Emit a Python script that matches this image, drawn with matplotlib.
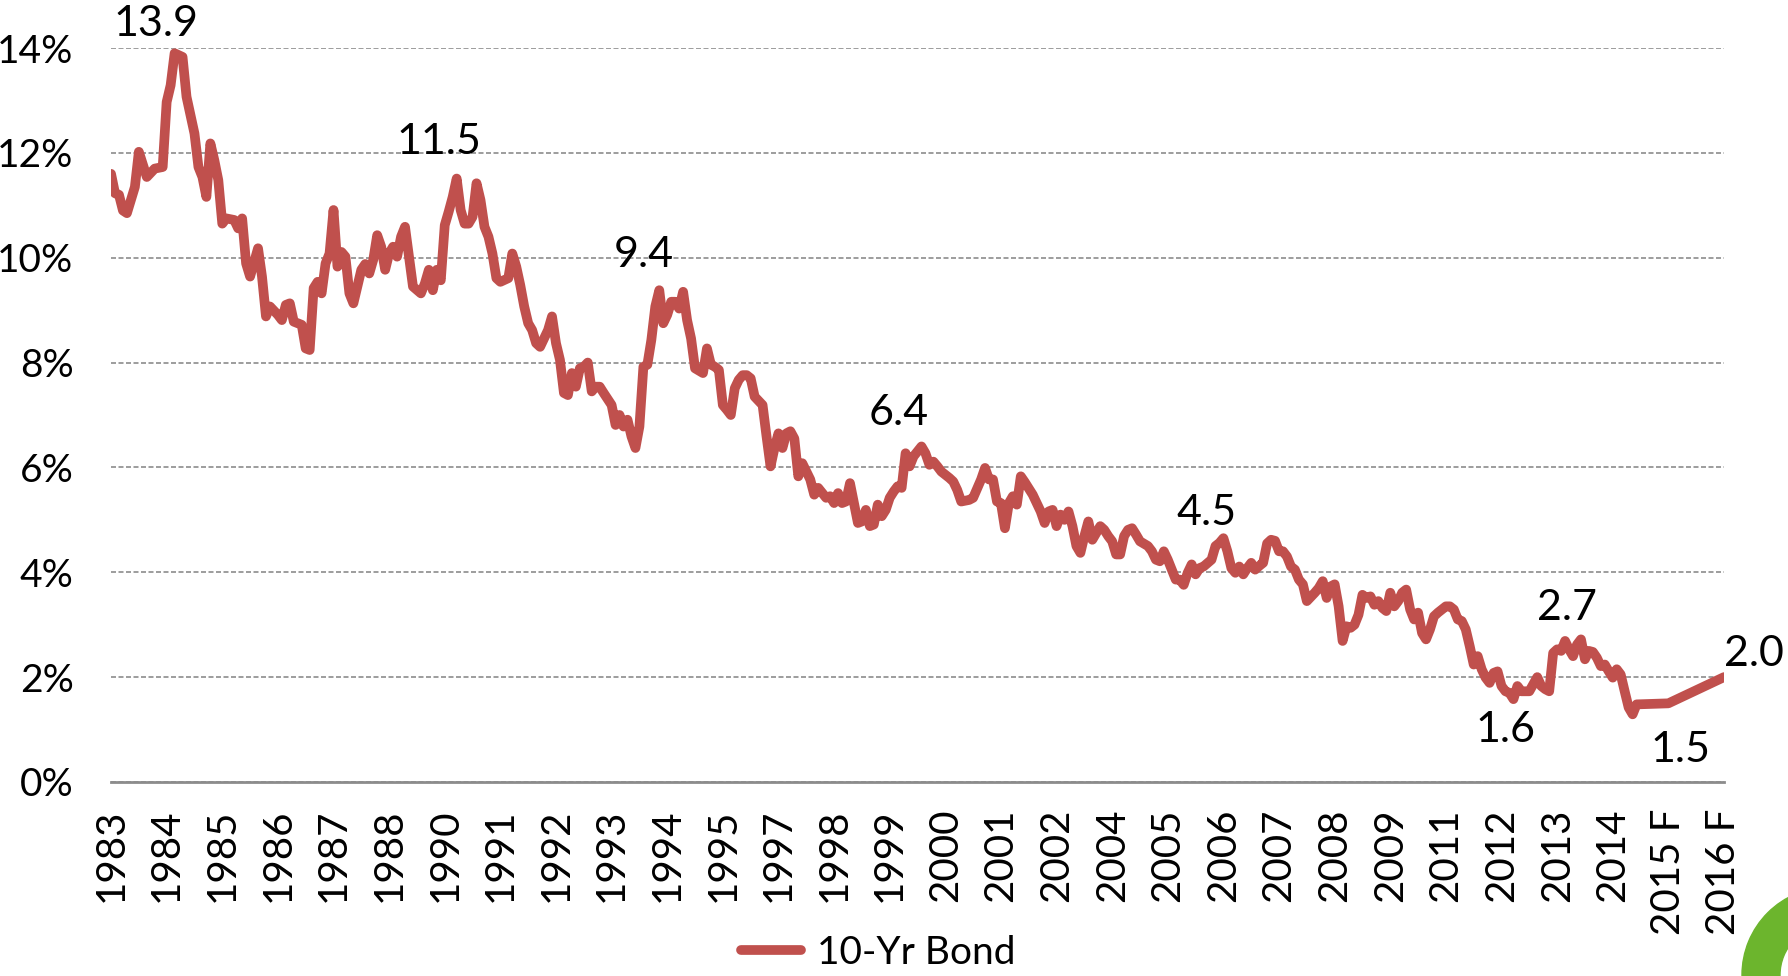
import numpy as np
import matplotlib
matplotlib.use("Agg")
import matplotlib.pyplot as plt
from matplotlib.patches import Wedge

nan = np.nan

# monthly 10-yr yield (%), Jan 1983 .. Jan 2015, nan = not read (line joins across)
y1983 = [11.6, 11.23, 11.2, 10.9, 10.85, nan, 11.35, 12.02, nan, 11.54, nan, 11.7]
y1984 = [nan, 11.73, 12.97, 13.29, 13.9, nan, 13.83, 13.07, nan, 12.37, 11.73, 11.54]
y1985 = [11.16, 12.18, 11.86, 11.48, 10.65, 10.75, nan, 10.72, 10.56, 10.75, 9.89, 9.64]
y1986 = [nan, 10.18, 9.64, 8.88, 9.07, nan, 8.91, 8.81, 9.1, 9.13, 8.78, nan]
y1987 = [8.72, 8.27, 8.24, 9.42, 9.54, 9.32, 9.89, 10.08, 10.91, 9.83, 10.11, 10.02]
y1988 = [9.32, 9.13, nan, 9.77, 9.88, 9.70, 9.96, 10.43, 10.21, 9.77, 10.08, 10.21]
y1989 = [10.02, 10.4, 10.59, 10.02, 9.45, nan, 9.32, 9.51, 9.77, 9.38, 9.77, 9.57]
y1990 = [10.62, 10.88, 11.16, 11.51, 10.91, 10.65, 10.65, 10.78, 11.42, 11.1, 10.59, 10.4]
y1991 = [10.08, 9.61, 9.54, nan, 9.61, 10.08, 9.83, 9.48, 9.07, 8.75, 8.62, 8.37]
y1992 = [8.30, nan, 8.62, 8.88, 8.37, 8.05, 7.42, 7.38, 7.80, 7.54, 7.89, 7.92]
y1993 = [8.0, 7.45, 7.54, 7.54, 7.42, nan, 7.19, 6.81, 7.0, 6.78, 6.91, 6.59]
y1994 = [6.37, 6.78, 7.92, 7.96, 8.43, 9.07, 9.38, 8.75, 8.91, 9.16, 9.16, 9.03]
y1995 = [9.35, 8.81, 8.46, 7.89, nan, 7.80, 8.27, 7.96, 7.92, 7.86, 7.19, 7.10]
y1996 = [7.0, 7.51, 7.67, 7.76, 7.76, 7.70, 7.35, nan, 7.19, 6.59, 6.02, 6.37]
y1997 = [6.65, 6.37, 6.65, 6.69, 6.55, 5.83, 6.08, nan, 5.77, 5.48, 5.61, nan]
y1998 = [5.42, 5.45, 5.32, 5.51, 5.32, 5.35, 5.70, nan, 4.94, 4.97, 5.19, 4.88]
y1999 = [4.91, 5.29, 5.07, 5.19, 5.42, 5.54, 5.64, 5.61, 6.27, 6.02, 6.21, nan]
y2000 = [6.40, 6.27, 6.05, 6.11, 6.02, 5.92, nan, 5.80, 5.73, 5.57, 5.35, nan]
y2001 = [5.38, 5.42, nan, 5.77, 5.99, 5.77, 5.77, 5.35, 5.32, 4.84, 5.32, 5.45]
y2002 = [5.29, 5.83, 5.72, nan, 5.48, nan, 5.16, 4.94, 5.16, 5.19, 4.88, 5.10]
y2003 = [5.0, 5.16, 4.88, 4.50, 4.37, 4.69, 4.97, 4.62, nan, 4.88, 4.81, 4.69]
y2004 = [4.59, 4.34, 4.34, 4.69, 4.81, 4.84, 4.72, 4.59, nan, 4.50, 4.40, 4.24]
y2005 = [4.21, 4.40, 4.24, 4.05, 3.86, 3.86, 3.76, 3.99, 4.15, 3.96, 4.08, 4.11]
y2006 = [nan, 4.24, 4.50, 4.56, 4.65, 4.40, 4.08, 3.99, 4.11, 3.96, 4.08, 4.18]
y2007 = [4.05, 4.12, 4.18, 4.55, 4.62, 4.60, 4.40, 4.40, 4.30, 4.11, 4.05, 3.86]
y2008 = [3.77, 3.45, nan, 3.61, 3.70, 3.83, 3.51, 3.73, 3.77, 3.35, 2.69, 2.97]
y2009 = [2.94, 3.0, 3.19, 3.57, 3.51, 3.54, 3.38, 3.45, 3.32, 3.26, 3.61, 3.35]
y2010 = [3.45, 3.61, 3.67, 3.29, 3.10, 3.23, 2.84, 2.72, 2.91, 3.16, 3.23, 3.29]
y2011 = [3.35, 3.35, 3.29, 3.10, 3.07, 2.91, 2.59, 2.24, 2.40, 2.15, 1.99, 1.89]
y2012 = [2.08, 2.11, 1.83, 1.73, 1.70, 1.58, 1.83, 1.73, 1.73, 1.73, nan, 2.0]
y2013 = [1.83, 1.77, 1.73, 2.46, 2.53, 2.50, 2.69, 2.53, 2.40, 2.62, 2.72, 2.34]
y2014 = [2.50, 2.48, 2.37, 2.21, 2.24, 2.11, 1.99, 2.15, 2.05, 1.73, 1.42, 1.29]
y2015 = [1.48]

forecast_labels = ["2015 F", "2016 F"]
forecast_vals = [1.5, 2.0]

tick_labels = ["1983", "1984", "1985", "1986", "1987", "1988", "1990", "1991",
               "1992", "1993", "1994", "1995", "1997", "1998", "1999", "2000",
               "2001", "2002", "2004", "2005", "2006", "2007", "2008", "2009",
               "2011", "2012", "2013", "2014", "2015 F", "2016 F"]
tick_step = 14  # months between category labels

callouts = ["13.9", "11.5", "9.4", "6.4", "4.5", "2.7", "1.6", "1.5", "2.0"]
callout_at = [(11.4, 14.45), (82.6, 12.2), (134.2, 10.05), (198.2, 7.03),
              (275.7, 5.13), (366.4, 3.31), (350.9, 1.0), (395.1, 0.61),
              (413.5, 2.44)]

yields = (y1983 + y1984 + y1985 + y1986 + y1987 + y1988 + y1989 + y1990 +
          y1991 + y1992 + y1993 + y1994 + y1995 + y1996 + y1997 + y1998 +
          y1999 + y2000 + y2001 + y2002 + y2003 + y2004 + y2005 + y2006 +
          y2007 + y2008 + y2009 + y2010 + y2011 + y2012 + y2013 + y2014 + y2015)

x = np.arange(len(yields), dtype=float)
y = np.array(yields, dtype=float)
ok = ~np.isnan(y)
fx = [tick_labels.index(l) * tick_step for l in forecast_labels]
xs = np.concatenate([x[ok], fx])
ys = np.concatenate([y[ok], forecast_vals])

plt.rcParams['font.family'] = ['Lato', 'DejaVu Sans']

fig = plt.figure(figsize=(17.88, 9.76), dpi=100)
ax = fig.add_axes([0.0621, 0.1988, 0.9021, 0.752])

ax.plot(xs, ys, color="#c0504d", lw=7, solid_joinstyle="round",
        solid_capstyle="round", label="10-Yr Bond", zorder=3)

for t, (cx, cy) in zip(callouts, callout_at):
    ax.text(cx, cy, t, fontsize=31, ha="center", va="center", color="black")

ax.set_ylim(0, 14)
ax.set_xlim(0, (len(tick_labels) - 1) * tick_step)
ax.set_yticks(range(0, 15, 2))
ax.set_yticklabels([f"{v}%" for v in range(0, 15, 2)], fontsize=28)
ax.set_xticks([i * tick_step for i in range(len(tick_labels))])
ax.set_xticklabels(tick_labels, rotation=90, fontsize=29)
ax.tick_params(axis="y", length=0, pad=27)
ax.tick_params(axis="x", length=0, pad=19)

ax.grid(axis="y", color="#8c8c8c", lw=1.2, linestyle=(0, (3, 1.5)))
ax.grid(axis="x", visible=False)
for s in ["top", "right", "left"]:
    ax.spines[s].set_visible(False)
ax.spines["bottom"].set_color("#8c8c8c")
ax.spines["bottom"].set_linewidth(2)
ax.spines["bottom"].set_zorder(4)

fig.legend(loc="center", bbox_to_anchor=(878 / 1788, 23 / 976), frameon=False,
           fontsize=28, handlelength=1.55, handletextpad=0.4)

# green logo ring peeking in at the bottom-right corner
bg = fig.add_axes([0, 0, 1, 1], zorder=-1)
bg.set_xlim(0, 1788)
bg.set_ylim(976, 0)
bg.axis("off")
bg.add_patch(Wedge((1830, 975), 88, 0, 360, width=38, color="#6cb52d"))

fig.savefig("out.png", dpi=100)
